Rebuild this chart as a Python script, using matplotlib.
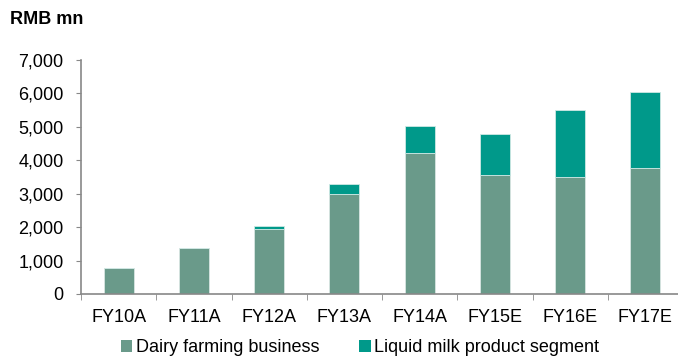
import matplotlib
matplotlib.use("Agg")
import matplotlib.pyplot as plt
from matplotlib.ticker import FuncFormatter

categories = ["FY10A", "FY11A", "FY12A", "FY13A", "FY14A", "FY15E", "FY16E", "FY17E"]
dairy = [780, 1380, 1940, 2990, 4210, 3550, 3500, 3760]
liquid = [0, 0, 90, 300, 830, 1240, 2000, 2280]

plt.rcParams['font.family'] = ['Liberation Sans', 'DejaVu Sans']

fig = plt.figure(figsize=(6.78, 3.6), dpi=100)
ax = fig.add_axes([81/678, (360-294)/360, (683-81)/678, (294-60)/360])

x = list(range(len(categories)))
c1 = "#6a9a8a"
c2 = "#00998a"
ax.bar(x, dairy, width=0.4, color=c1, edgecolor="#d8e6e2", linewidth=0.6, label="Dairy farming business", zorder=2)
ax.bar(x, liquid, width=0.4, bottom=dairy, color=c2, edgecolor="#cfe8e4", linewidth=0.6, label="Liquid milk product segment", zorder=2)

ax.set_xlim(-0.5, 7.5)
ax.set_ylim(0, 7000)
ax.set_yticks(range(0, 7001, 1000))
ax.yaxis.set_major_formatter(FuncFormatter(lambda v, p: f"{int(v):,}"))
ax.set_xticks(x)
ax.set_xticklabels(categories)
ax.set_xticks([i + 0.5 for i in range(-1, 8)], minor=True)
ax.tick_params(axis='x', which='major', length=0, pad=10.5, labelsize=13)
ax.tick_params(axis='x', which='minor', length=4, color="#888888", direction='out')
ax.tick_params(axis='y', length=3.5, color="#888888", direction='out', labelsize=13, pad=9)

for s in ["top", "right"]:
    ax.spines[s].set_visible(False)
for s in ["left", "bottom"]:
    ax.spines[s].set_color("#888888")
    ax.spines[s].set_linewidth(1.2)

fig.text(10/678, 1 - 19/360, "RMB mn", fontsize=13, fontweight='bold', va='center', ha='left')

leg = fig.legend(loc='center', bbox_to_anchor=(0.531, 1 - 348/360), ncol=2, frameon=False,
                 fontsize=13, handlelength=0.65, handleheight=0.65, handletextpad=0.2, columnspacing=2.2,
                 borderpad=0, borderaxespad=0)
for h in leg.legend_handles:
    h.set_edgecolor('none')

fig.savefig("out.png", dpi=100)
